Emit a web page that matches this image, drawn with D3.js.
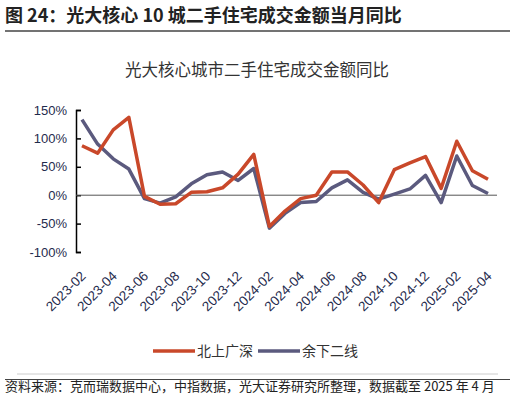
<!DOCTYPE html>
<html>
<head>
<meta charset="utf-8">
<script src="https://cdn.jsdelivr.net/npm/d3@7"></script>
<style>
  body { margin: 0; background: #fff; }
  svg { display: block; font-family: "Noto Sans CJK SC", "Liberation Sans", sans-serif; }
</style>
</head>
<body>
<div id="chart"></div>
<script>
// months 2023-02 .. 2025-04
var months = [
  "2023-02", "2023-03", "2023-04", "2023-05", "2023-06", "2023-07", "2023-08",
  "2023-09", "2023-10", "2023-11", "2023-12", "2024-01", "2024-02", "2024-03",
  "2024-04", "2024-05", "2024-06", "2024-07", "2024-08", "2024-09", "2024-10",
  "2024-11", "2024-12", "2025-01", "2025-02", "2025-03", "2025-04"
];
// 北上广深, % yoy
var tier1 = [87, 74, 115, 137, -2, -16, -15, 5, 6, 13, 37, 72, -55, -28, -6, 0, 41, 41, 18, -13, 45, 57, 68, 12, 95, 43, 28];
// 余下二线, % yoy
var tier2 = [133, 90, 64, 46, -6, -14, -3, 20, 36, 41, 26, 47, -58, -32, -13, -11, 13, 27, 5, -7, 2, 11, 35, -13, 69, 17, 3];
var yTicks = [-100, -50, 0, 50, 100, 150];
var seriesNames = ["北上广深", "余下二线"];

var width = 516, height = 400;
var color = d3.scaleOrdinal().domain(seriesNames).range(["#c9482a", "#5b5a7e"]);

var svg = d3.select("#chart").append("svg")
  .attr("width", width)
  .attr("height", height);

// figure title + rule
svg.append("text")
  .attr("x", 5).attr("y", 22)
  .attr("font-size", 18).attr("font-weight", "bold").attr("fill", "#222")
  .text("图 24：光大核心 10 城二手住宅成交金额当月同比");
svg.append("line")
  .attr("x1", 5).attr("x2", 510).attr("y1", 31).attr("y2", 31)
  .attr("stroke", "#444").attr("stroke-width", 1.5);

// chart title
svg.append("text")
  .attr("x", 257).attr("y", 76)
  .attr("text-anchor", "middle")
  .attr("font-size", 16.5).attr("fill", "#333")
  .text("光大核心城市二手住宅成交金额同比");

var x = d3.scalePoint().domain(months).range([82, 488]);
var y = d3.scaleLinear().domain([-100, 150]).range([252, 110]);

// y axis, ticks pointing inward
var yAxis = d3.axisLeft(y).tickValues(yTicks).tickSize(-5).tickPadding(9)
  .tickFormat(function (d) { return d + "%"; });
var gy = svg.append("g")
  .attr("transform", "translate(76,0)")
  .call(yAxis);
gy.select(".domain").attr("stroke", "#000").attr("stroke-width", 1.5);
gy.selectAll(".tick line").attr("stroke", "#000").attr("stroke-width", 1.5);
gy.selectAll(".tick text")
  .attr("font-family", "Liberation Sans, sans-serif")
  .attr("font-size", 13).attr("fill", "#1f2b4d");

// zero line
svg.append("line")
  .attr("x1", 76).attr("x2", 497)
  .attr("y1", y(0)).attr("y2", y(0))
  .attr("stroke", "#555").attr("stroke-width", 1);

// x labels every 2 months
var xAxis = d3.axisBottom(x)
  .tickValues(months.filter(function (d, i) { return i % 2 == 0; }))
  .tickSize(0);
var gx = svg.append("g").call(xAxis);
gx.select(".domain").remove();
gx.selectAll(".tick text")
  .attr("font-family", "Liberation Sans, sans-serif")
  .attr("font-size", 13.5).attr("fill", "#1f2b4d")
  .attr("x", 0).attr("y", 0).attr("dy", 0)
  .attr("text-anchor", "end")
  .attr("transform", "translate(4,277) rotate(-45)");

// lines
var line = d3.line()
  .x(function (d, i) { return x(months[i]); })
  .y(function (d) { return y(d); });

[tier2, tier1].forEach(function (vals, k) {
  svg.append("path")
    .datum(vals)
    .attr("fill", "none")
    .attr("stroke", color(seriesNames[1 - k]))
    .attr("stroke-width", 3.5)
    .attr("stroke-linejoin", "round")
    .attr("d", line);
});

// legend
var legend = svg.append("g").attr("transform", "translate(153,351)");
var items = legend.selectAll("g")
  .data(seriesNames)
  .join("g")
  .attr("transform", function (d, i) { return "translate(" + i * 105 + ",0)"; });
items.append("line")
  .attr("x1", 0).attr("x2", 42)
  .attr("stroke", color).attr("stroke-width", 3.5);
items.append("text")
  .attr("x", 44).attr("dy", "0.36em")
  .attr("font-size", 14).attr("fill", "#333")
  .text(function (d) { return d; });

// source
svg.append("line")
  .attr("x1", 17).attr("x2", 498).attr("y1", 374).attr("y2", 374)
  .attr("stroke", "#ccc").attr("stroke-width", 1);
svg.append("line")
  .attr("x1", 5).attr("x2", 510).attr("y1", 379.5).attr("y2", 379.5)
  .attr("stroke", "#444").attr("stroke-width", 1);
svg.append("text")
  .attr("x", 5).attr("y", 391)
  .attr("font-size", 13).attr("fill", "#222")
  .text("资料来源：克而瑞数据中心，中指数据，光大证券研究所整理，数据截至 2025 年 4 月");
</script>
</body>
</html>
